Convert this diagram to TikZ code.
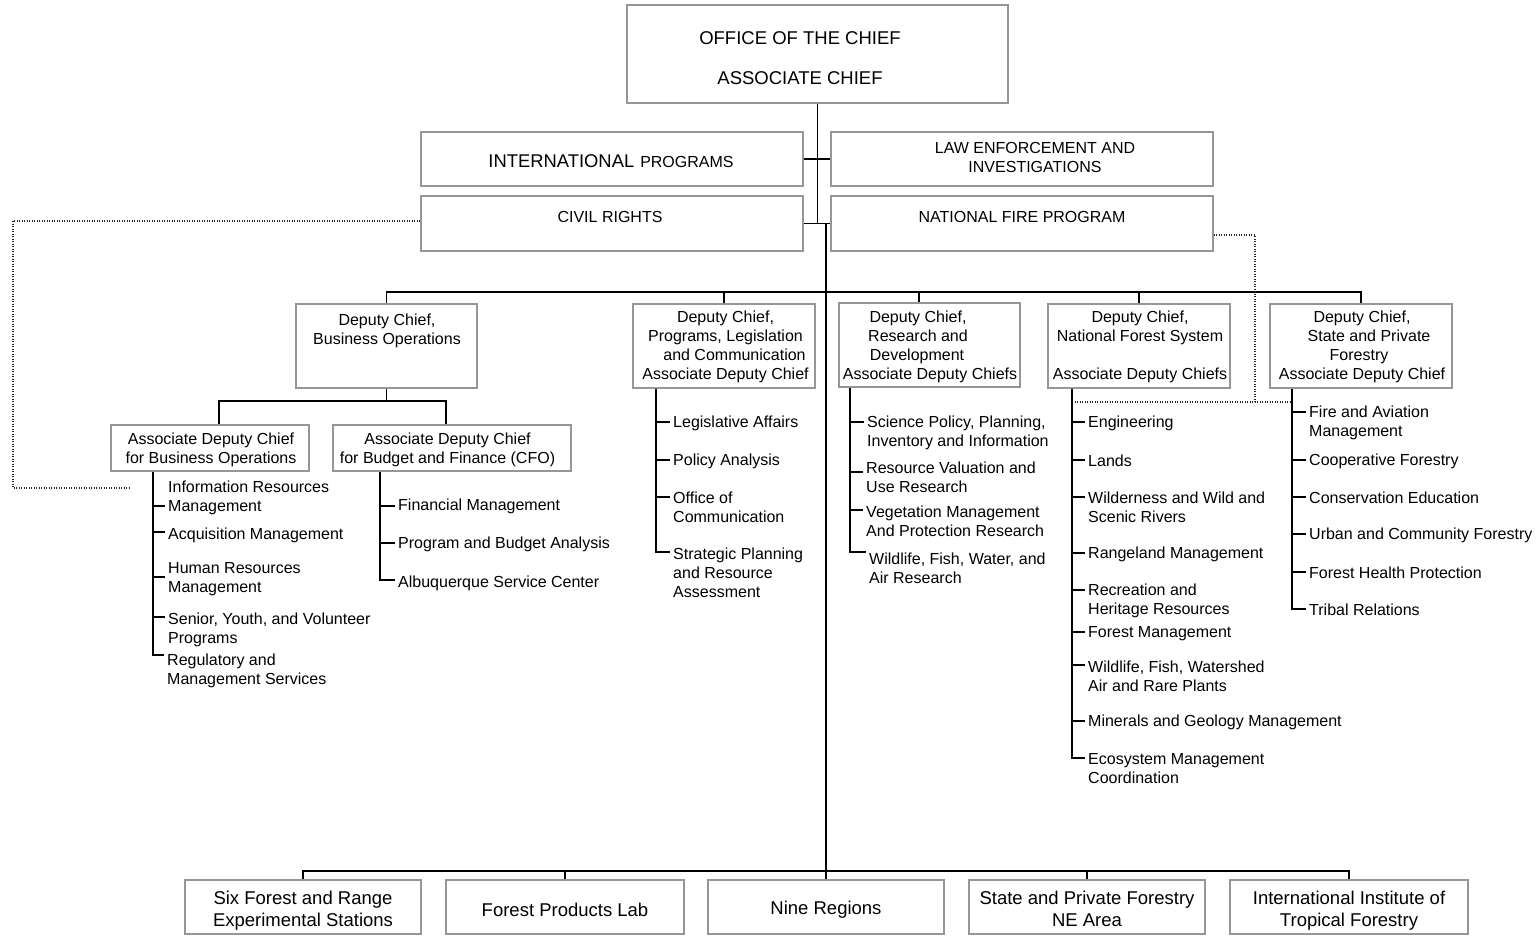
\documentclass[tikz,border=0pt]{standalone}
\usepackage{fontspec}
\setmainfont{Liberation Sans}
\definecolor{boxgray}{RGB}{150,150,150}
\newcommand\tfs{\fontsize{16}{19}\selectfont}
\newcommand\tfb{\fontsize{18.5}{22}\selectfont}
\newcommand\tfc{\fontsize{18.5}{40}\selectfont}
\begin{document}
\begin{tikzpicture}[x=1pt,y=-1pt,
  box/.style={draw=boxgray, line width=1.3pt, fill=white, inner sep=0pt},
  bbox/.style={draw=boxgray, line width=2.4pt, fill=white, inner sep=0pt, minimum height=54pt},
  ln/.style={draw=black, line width=1.3pt},
  trunk/.style={draw=black, line width=2.3pt},
  dots/.style={draw=black!85, line width=1.2pt, dash pattern=on 1.2pt off 1.3pt},
  txt/.style={inner sep=0pt, align=center, font=\tfs, yshift=-1.5pt},
  item/.style={inner xsep=3pt, inner ysep=0pt, align=left, anchor=west, font=\tfs, yshift=-1.5pt},
  big/.style={inner sep=0pt, align=center, font=\tfb, yshift=-2.5pt}]
\useasboundingbox (0,0) rectangle (1539,935);
\fill[white] (0,0) rectangle (1539,935);

% ---------- boxes ----------
\node[box, minimum width=381pt, minimum height=98pt] (chief) at (817.5,54) {};
\node[box, minimum width=382pt, minimum height=54pt] (intl) at (612,159) {};
\node[box, minimum width=382pt, minimum height=54pt] (law) at (1022,159) {};
\node[box, minimum width=382pt, minimum height=55pt] (cr) at (612,223.5) {};
\node[box, minimum width=382pt, minimum height=55pt] (nfp) at (1022,223.5) {};

\node[box, minimum width=181pt, minimum height=84pt] (bo) at (386.5,346) {};
\node[box, minimum width=182pt, minimum height=84pt] (plc) at (724,346) {};
\node[box, minimum width=181pt, minimum height=84pt] (rd) at (929.5,345) {};
\node[box, minimum width=182pt, minimum height=84pt] (nfs) at (1139,346) {};
\node[box, minimum width=182pt, minimum height=84pt] (spf) at (1361,346) {};

\node[box, minimum width=198pt, minimum height=46pt] (adcbo) at (210,448) {};
\node[box, minimum width=238pt, minimum height=46pt] (adcbf) at (452,448) {};

\node[bbox, minimum width=236pt] (six) at (303,907) {};
\node[bbox, minimum width=238pt] (fpl) at (565,907) {};
\node[bbox, minimum width=236pt] (nine) at (826,907) {};
\node[bbox, minimum width=236pt] (spfne) at (1087,907) {};
\node[bbox, minimum width=238pt] (iitf) at (1349,907) {};

% ---------- box texts ----------
\node[inner sep=0pt, align=center, font=\tfc] (chiefT) at (800,58.5) {OFFICE OF THE CHIEF\\ASSOCIATE CHIEF};
\node[inner sep=0pt] (intlT) at (611,161) {{\fontsize{18.4}{22}\selectfont INTERNATIONAL}\hspace{6pt}{\tfs PROGRAMS}};
\node[txt] (lawT) at (1035,155.5) {LAW ENFORCEMENT AND\\INVESTIGATIONS};
\node[txt] (crT) at (610,215) {CIVIL RIGHTS};
\node[txt] (nfpT) at (1022,215) {NATIONAL FIRE PROGRAM};

\node[txt] (boT) at (387,329) {Deputy Chief,\\Business Operations};
\node[txt] (plcT) at (725.5,345.5) {Deputy Chief,\\Programs, Legislation\\\hspace*{18pt}and Communication\\Associate Deputy Chief};
\node[txt] (rdT) at (930,345.5) {\mbox{Deputy Chief,\hspace{24pt}}\\\mbox{Research and\hspace{24pt}}\\\mbox{Development\hspace{26pt}}\\Associate Deputy Chiefs};
\node[txt] (nfsT) at (1140,345.5) {Deputy Chief,\\National Forest System\\[19pt]Associate Deputy Chiefs};
\node[txt] (spfT) at (1362,345.5) {Deputy Chief,\\\hspace*{14pt}State and Private\\\mbox{Forestry\hspace{6pt}}\\Associate Deputy Chief};

\node[txt] (adcboT) at (211,448.5) {Associate Deputy Chief\\for Business Operations};
\node[txt] (adcbfT) at (447.5,448.5) {Associate Deputy Chief\\for Budget and Finance (CFO)};

\node[big] (sixT) at (303,908) {Six Forest and Range\\Experimental Stations};
\node[big] (fplT) at (565,907.5) {Forest Products Lab};
\node[big] (nineT) at (826,907.5) {Nine Regions};
\node[big] (spfneT) at (1087,906) {State and Private Forestry\\NE Area};
\node[big] (iitfT) at (1349,908) {International Institute of\\Tropical Forestry};

% ---------- main connectors ----------
\draw[ln] (chief.south) -- (chief.south |- cr.east);
\draw[ln] (intl.east) -- (law.west);
\draw[ln] (cr.east) -- (nfp.west);
\draw[trunk] (nine.north |- cr.east) -- (nine.north);
\draw[trunk] (six.north) -- ++(0,-8) -| (iitf.north);
\draw[trunk] (fpl.north) -- ++(0,-8);
\draw[trunk] (spfne.north) -- ++(0,-8);

\coordinate (dbar) at (0,292);
\draw[ln] (bo.north) -- (bo.north |- dbar) -- (spf.north |- dbar) -- (spf.north);
\draw[ln] (plc.north) -- (plc.north |- dbar);
\draw[ln] ([xshift=-10.5pt]rd.north) -- ([xshift=-10.5pt]rd.north |- dbar);
\draw[ln] (nfs.north) -- (nfs.north |- dbar);

\coordinate (bbar) at (0,401);
\coordinate (c1) at ([xshift=9pt]adcbo.north);
\coordinate (c2) at ([xshift=-6pt]adcbf.north);
\draw[ln] (bo.south) -- (bo.south |- bbar);
\draw[ln] (c1) -- (c1 |- bbar) -- (c2 |- bbar) -- (c2);

% ---------- dotted links ----------
\coordinate (dotL) at (130,488);
\draw[dots] ([yshift=2.5pt]cr.west) -| (dotL -| 13,0) -- (dotL);
\coordinate (nl) at (1072,402);
\coordinate (sl) at (1292,402);
\draw[dots] ([yshift=-11.5pt]nfp.east) -| (1255,402);
\draw[dots] (nl) -- (sl);

% ---------- ADC Business Operations list ----------
\node[item] (i1) at (165,496) {Information Resources\\Management};
\node[item] (i2) at (165,534) {Acquisition Management};
\node[item] (i3) at (165,577.5) {Human Resources\\Management};
\node[item] (i4) at (165,628.5) {Senior, Youth, and Volunteer\\Programs};
\node[item] (i5) at (164,669.5) {Regulatory and\\Management Services};
\draw[ln] (adcbo.south -| 153,0) |- (i5.west |- 0,655);
\foreach \n/\y in {i1/506, i2/532, i3/577, i4/617} \draw[ln] (153,\y) -- (\n.west |- 0,\y);

% ---------- ADC Budget list ----------
\node[item] (f1) at (395,505) {Financial Management};
\node[item] (f2) at (395,543) {Program and Budget Analysis};
\node[item] (f3) at (395,582) {Albuquerque Service Center};
\draw[ln] (adcbf.south -| 380,0) |- (f3.west |- 0,580);
\foreach \n/\y in {f1/506, f2/543} \draw[ln] (380,\y) -- (\n.west |- 0,\y);

% ---------- PLC list ----------
\node[item] (p1) at (670,422) {Legislative Affairs};
\node[item] (p2) at (670,460) {Policy Analysis};
\node[item] (p3) at (670,506) {Office of\\Communication};
\node[item] (p4) at (670,571.5) {Strategic Planning\\and Resource\\Assessment};
\draw[ln] (plc.south -| 656,0) |- (p4.west |- 0,552);
\foreach \n/\y in {p1/422, p2/460, p3/497} \draw[ln] (656,\y) -- (\n.west |- 0,\y);

% ---------- R&D list ----------
\node[item] (r1) at (864,431.5) {Science Policy, Planning,\\Inventory and Information};
\node[item] (r2) at (863,476) {Resource Valuation and\\Use Research};
\node[item] (r3) at (863,519.5) {Vegetation Management\\And Protection Research};
\node[item] (r4) at (866,567) {Wildlife, Fish, Water, and\\Air Research};
\draw[ln] (rd.south -| 850,0) |- (r4.west |- 0,552);
\foreach \n/\y in {r1/422, r2/472, r3/510} \draw[ln] (850,\y) -- (\n.west |- 0,\y);

% ---------- NFS list ----------
\node[item] (n1) at (1085,422) {Engineering};
\node[item] (n2) at (1085,459) {Lands};
\node[item] (n3) at (1085,506) {Wilderness and Wild and\\Scenic Rivers};
\node[item] (n4) at (1085,553) {Rangeland Management};
\node[item] (n5) at (1085,599.5) {Recreation and\\Heritage Resources};
\node[item] (n6) at (1085,632) {Forest Management};
\node[item] (n7) at (1085,674.5) {Wildlife, Fish, Watershed\\Air and Rare Plants};
\node[item] (n8) at (1085,721) {Minerals and Geology Management};
\node[item] (n9) at (1085,767.5) {Ecosystem Management\\Coordination};
\draw[ln] (nfs.south -| 1072,0) |- (n9.west |- 0,758);
\foreach \n/\y in {n1/422, n2/460, n3/497, n4/553, n5/590, n6/632, n7/665, n8/721} \draw[ln] (1072,\y) -- (\n.west |- 0,\y);

% ---------- SPF list ----------
\node[item] (s1) at (1306,421.5) {Fire and Aviation\\Management};
\node[item] (s2) at (1306,460) {Cooperative Forestry};
\node[item] (s3) at (1306,496) {Conservation Education};
\node[item] (s4) at (1306,534) {Urban and Community Forestry};
\node[item] (s5) at (1306,571) {Forest Health Protection};
\node[item] (s6) at (1306,608) {Tribal Relations};
\draw[ln] (spf.south -| 1292,0) |- (s6.west |- 0,609);
\foreach \n/\y in {s1/412, s2/460, s3/497, s4/534, s5/572} \draw[ln] (1292,\y) -- (\n.west |- 0,\y);
\end{tikzpicture}
\end{document}
